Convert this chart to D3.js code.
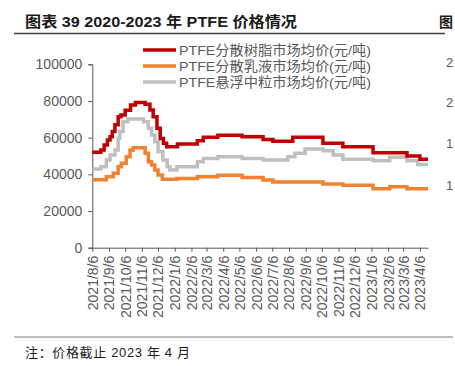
<!DOCTYPE html>
<html>
<head>
<meta charset="utf-8">
<script src="https://cdn.jsdelivr.net/npm/d3@7"></script>
<style>
  body { margin: 0; background: #fff; }
  svg text { font-family: "Liberation Sans", Arial, "Noto Sans CJK SC", sans-serif; }
</style>
</head>
<body>
<svg id="chart" width="455" height="366"></svg>
<script>
// month labels on the x axis
const tickLabels = ["2021/8/6","2021/9/6","2021/10/6","2021/11/6","2021/12/6","2022/1/6","2022/2/6",
  "2022/3/6","2022/4/6","2022/5/6","2022/6/6","2022/7/6","2022/8/6","2022/9/6","2022/10/6",
  "2022/11/6","2022/12/6","2023/1/6","2023/2/6","2023/3/6","2023/4/6"]
const yTicks = [0, 20000, 40000, 60000, 80000, 100000]
const seriesNames = ["PTFE分散树脂市场均价(元/吨)", "PTFE分散乳液市场均价(元/吨)", "PTFE悬浮中粒市场均价(元/吨)"]
const endDate = "2023-04-21"

// price change points (step series), 元/吨
const resin = [
  ["2021-08-06",52000],["2021-08-22",53300],["2021-08-28",56000],["2021-09-03",58700],
  ["2021-09-08",60500],["2021-09-12",63300],["2021-09-17",67000],["2021-09-23",71400],
  ["2021-09-28",72400],["2021-10-06",75000],["2021-10-16",77800],["2021-10-25",79200],
  ["2021-11-12",78200],["2021-11-21",75100],["2021-11-27",71400],["2021-12-04",65100],
  ["2021-12-10",59600],["2021-12-16",56900],["2021-12-22",55100],["2022-01-11",56500],
  ["2022-02-17",58300],["2022-02-28",60200],["2022-03-27",61300],["2022-05-11",60500],
  ["2022-06-19",59000],["2022-07-07",58000],["2022-08-13",60200],["2022-10-08",56900],
  ["2022-11-14",55100],["2023-01-09",51800],["2023-03-13",50000],["2023-04-06",48200]
]
const emulsion = [
  ["2021-08-06",37000],["2021-09-01",38700],["2021-09-14",40600],["2021-09-23",44200],
  ["2021-09-29",46000],["2021-10-08",49600],["2021-10-15",53300],["2021-10-21",54500],
  ["2021-11-12",51500],["2021-11-18",46900],["2021-11-24",45100],["2021-11-30",42400],
  ["2021-12-06",39600],["2021-12-14",37300],["2022-01-10",37800],["2022-02-17",38700],
  ["2022-03-27",39500],["2022-05-11",38300],["2022-06-19",36900],["2022-07-07",35800],
  ["2022-10-08",34700],["2022-11-14",34000],["2023-01-09",32200],["2023-02-09",33300],
  ["2023-03-13",32200]
]
const suspension = [
  ["2021-08-06",42900],["2021-08-22",44200],["2021-09-01",47800],["2021-09-08",50500],
  ["2021-09-17",53300],["2021-09-23",59600],["2021-09-26",63300],["2021-10-02",68700],
  ["2021-10-11",70200],["2021-11-09",68700],["2021-11-18",65100],["2021-11-24",61500],
  ["2021-11-30",57800],["2021-12-06",52300],["2021-12-15",47800],["2021-12-23",44200],
  ["2021-12-28",42400],["2022-01-10",44200],["2022-02-17",46900],["2022-02-28",48700],
  ["2022-03-27",49600],["2022-05-11",48700],["2022-06-19",47800],["2022-08-04",49600],
  ["2022-08-17",51500],["2022-09-05",53800],["2022-10-08",52900],["2022-10-27",50500],
  ["2022-11-14",48200],["2023-01-09",47400],["2023-02-09",49300],["2023-03-13",47400],
  ["2023-04-02",45300]
]

const colors = ["#C00000", "#F08231", "#BFBFBF"]
const txtGray = "#595959"

let svg = d3.select("#chart")
let parse = d3.timeParse("%Y-%m-%d")
let parseTick = d3.timeParse("%Y/%m/%d")

let margin = { top: 64.3, right: 27, bottom: 118.3, left: 92.3 }
let width = 455, height = 366

let x = d3.scaleTime()
  .domain([parse("2021-08-06"), parse(endDate)])
  .range([margin.left, width - margin.right])

let y = d3.scaleLinear()
  .domain([0, 100000])
  .range([height - margin.bottom, margin.top])

// title + rules
svg.append("text")
  .attr("x", 25).attr("y", 27)
  .attr("textLength", 272).attr("lengthAdjust", "spacingAndGlyphs")
  .style("font-size", "15px").style("font-weight", "bold").style("fill", "#1a1a1a")
  .text("图表 39 2020-2023 年 PTFE 价格情况")

svg.append("line")
  .attr("x1", 14).attr("x2", 445).attr("y1", 33.5).attr("y2", 33.5)
  .style("stroke", "#404040").style("stroke-width", 1.5)

svg.append("line")
  .attr("x1", 14).attr("x2", 453).attr("y1", 337).attr("y2", 337)
  .style("stroke", "#7f7f7f").style("stroke-width", 1)

svg.append("text")
  .attr("x", 25).attr("y", 357)
  .attr("textLength", 165).attr("lengthAdjust", "spacing")
  .style("font-size", "13px").style("fill", "#1a1a1a")
  .text("注：价格截止 2023 年 4 月")

// pieces of the neighbouring chart at the right edge
svg.append("text").attr("x", 439).attr("y", 27)
  .style("font-size", "14px").style("font-weight", "bold").style("fill", "#1a1a1a").text("图")
const edgeMarks = [["2", 62], ["2", 102], ["1", 143], ["1", 185]]
svg.selectAll(".edge").data(edgeMarks).enter().append("text")
  .attr("x", 446).attr("y", d => d[1] + 5)
  .style("font-size", "13px").style("fill", txtGray)
  .text(d => d[0])

// axes
let yAxis = svg.append("g")
  .attr("transform", `translate(${margin.left},0)`)
  .call(d3.axisLeft(y).tickValues(yTicks).tickSize(4).tickPadding(6).tickFormat(d3.format("d")))
yAxis.select(".domain").style("stroke", "#595959")
yAxis.selectAll(".tick line").style("stroke", "#595959")
yAxis.selectAll("text").style("font-size", "14px").style("fill", txtGray)
  .style("font-family", "'Liberation Sans', Arial, sans-serif")

let xAxis = svg.append("g")
  .attr("transform", `translate(0,${height - margin.bottom})`)
  .call(d3.axisBottom(x).tickValues(tickLabels.map(parseTick)).tickSize(4).tickSizeOuter(0)
    .tickFormat(d3.timeFormat("%Y/%-m/%-d")))
xAxis.select(".domain").style("stroke", "#595959")
xAxis.selectAll(".tick line").style("stroke", "#595959")
xAxis.selectAll("text")
  .attr("transform", "rotate(-90)")
  .attr("x", -8).attr("y", 0).attr("dy", "0.35em")
  .style("text-anchor", "end")
  .style("font-size", "14px").style("fill", txtGray)
  .style("font-family", "'Liberation Sans', Arial, sans-serif")

// lines
let line = d3.line()
  .curve(d3.curveStepAfter)
  .x(d => x(parse(d[0])))
  .y(d => y(d[1]))

let allSeries = [resin, emulsion, suspension]
// gray first, red on top
let order = [2, 1, 0]
order.forEach(function (i) {
  let s = allSeries[i]
  let pts = s.concat([[endDate, s[s.length - 1][1]]])
  svg.append("path")
    .datum(pts)
    .attr("d", line)
    .style("fill", "none")
    .style("stroke", colors[i])
    .style("stroke-width", 3.5)
})

// legend
let legend = svg.append("g")
seriesNames.forEach(function (name, i) {
  let ly = 50 + i * 16
  legend.append("line")
    .attr("x1", 143).attr("x2", 176).attr("y1", ly).attr("y2", ly)
    .style("stroke", colors[i]).style("stroke-width", 3.5)
  legend.append("text")
    .attr("x", 179).attr("y", ly + 5)
    .attr("textLength", 192).attr("lengthAdjust", "spacingAndGlyphs")
    .style("font-size", "13.5px").style("fill", txtGray)
    .text(name)
})
</script>
</body>
</html>
